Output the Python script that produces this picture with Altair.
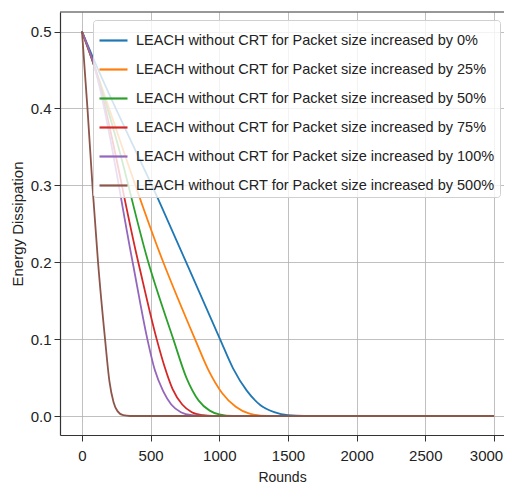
import altair as alt
import pandas as pd

series_names = [
    "LEACH without CRT for Packet size increased by 0%",
    "LEACH without CRT for Packet size increased by 25%",
    "LEACH without CRT for Packet size increased by 50%",
    "LEACH without CRT for Packet size increased by 75%",
    "LEACH without CRT for Packet size increased by 100%",
    "LEACH without CRT for Packet size increased by 500%",
]
colors = ["#1f77b4", "#ff7f0e", "#2ca02c", "#d62728", "#9467bd", "#8c564b"]

rounds_0 = [0, 90, 568, 1005, 1100, 1200, 1300, 1400, 1500, 1620, 3000]
energy_0 = [0.5, 0.462, 0.277, 0.1, 0.062, 0.033, 0.014, 0.005, 0.001, 0.0, 0.0]

rounds_25 = [0, 90, 592, 823, 920, 1020, 1120, 1220, 1350, 3000]
energy_25 = [0.5, 0.455, 0.2, 0.1, 0.06, 0.03, 0.012, 0.003, 0.0, 0.0]

rounds_50 = [0, 90, 250, 483, 665, 760, 850, 930, 1000, 1100, 3000]
energy_50 = [0.5, 0.455, 0.36, 0.2, 0.1, 0.05, 0.02, 0.007, 0.002, 0.0, 0.0]

rounds_75 = [0, 90, 410, 544, 600, 660, 730, 800, 880, 950, 3000]
energy_75 = [0.5, 0.455, 0.2, 0.1, 0.065, 0.035, 0.015, 0.005, 0.001, 0.0, 0.0]

rounds_100 = [0, 90, 369, 476, 530, 592, 650, 720, 800, 900, 3000]
energy_100 = [0.5, 0.455, 0.2, 0.1, 0.06, 0.032, 0.015, 0.005, 0.001, 0.0, 0.0]

rounds_500 = [0, 40, 80, 117, 168, 200, 230, 260, 300, 350, 3000]
energy_500 = [0.5, 0.4, 0.29, 0.2, 0.1, 0.045, 0.018, 0.006, 0.001, 0.0, 0.0]

all_rounds = [rounds_0, rounds_25, rounds_50, rounds_75, rounds_100, rounds_500]
all_energy = [energy_0, energy_25, energy_50, energy_75, energy_100, energy_500]

x_ticks = [0, 500, 1000, 1500, 2000, 2500, 3000]
y_ticks = [0.0, 0.1, 0.2, 0.3, 0.4, 0.5]

rows = []
for name, rr, ee in zip(series_names, all_rounds, all_energy):
    for r, e in zip(rr, ee):
        rows.append({"Rounds": r, "Energy": e, "Series": name})
df = pd.DataFrame(rows)

FONT = "Liberation Sans"
W, H = 444, 423

lines = (
    alt.Chart(df)
    .mark_line(strokeWidth=1.8, interpolate="monotone", clip=True)
    .encode(
        x=alt.X(
            "Rounds:Q",
            title="Rounds",
            scale=alt.Scale(domain=[-160, 3073], nice=False, zero=False),
            axis=alt.Axis(
                values=x_ticks,
                format="d",
                labelOffset={"condition": {"test": "datum.value == 3000", "value": -8}, "value": 0},
            ),
        ),
        y=alt.Y(
            "Energy:Q",
            title="Energy Dissipation",
            scale=alt.Scale(domain=[-0.0247, 0.5254], nice=False, zero=False),
            axis=alt.Axis(values=y_ticks, format=".1f"),
        ),
        color=alt.Color(
            "Series:N",
            sort=series_names,
            scale=alt.Scale(domain=series_names, range=colors),
            legend=alt.Legend(
                title=None,
                orient="none",
                legendX=33,
                legendY=8,
                symbolType="stroke",
                symbolSize=784,
                symbolStrokeWidth=2.2,
                labelFontSize=14.5,
                labelFont=FONT,
                labelColor="#222",
                labelLimit=500,
                rowPadding=7,
                padding=5,
                fillColor="rgba(255,255,255,0.8)",
                strokeColor="#d0d0d0",
                cornerRadius=3,
                labelOffset=7,
            ),
        ),
    )
)

top_spine = (
    alt.Chart(pd.DataFrame({"k": [0]}))
    .mark_rule(color="#333", strokeWidth=1.2)
    .encode(x=alt.value(0), x2=alt.value(W), y=alt.value(0))
)

chart = (
    alt.layer(lines, top_spine)
    .properties(width=W, height=H, padding={"left": 52, "top": 4, "right": 0, "bottom": 53}, autosize="none")
    .configure_view(stroke=None)
    .configure_axis(
        grid=True,
        gridColor="#b0b0b0",
        gridWidth=0.8,
        domainColor="#333",
        domainWidth=1.2,
        tickColor="#333",
        tickSize=6,
        labelFont=FONT,
        labelFontSize=15,
        labelColor="#222",
        titleFont=FONT,
        titleFontSize=14,
        titleFontWeight="normal",
        titleColor="#222",
    )
    .configure_axisX(labelPadding=7, titlePadding=7)
    .configure_axisY(labelPadding=3, titlePadding=5, titleFontSize=15)
)

chart.save("out.html", embed_options={"renderer": "svg", "actions": False})
